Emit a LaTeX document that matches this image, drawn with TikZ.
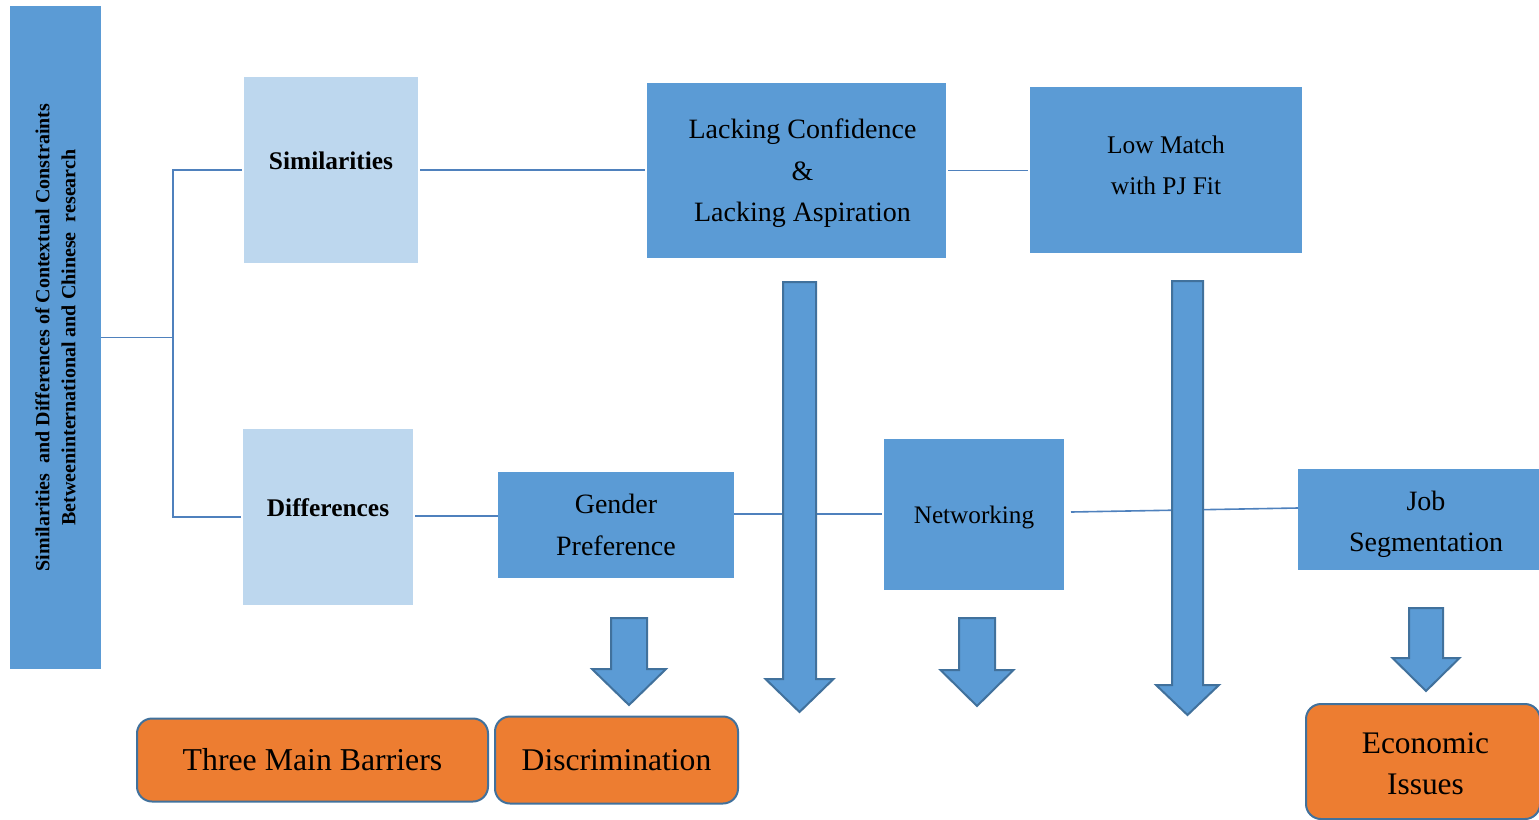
\documentclass[tikz,border=0pt]{standalone}
\usepackage{fontspec}
\setmainfont{Liberation Serif}
\usetikzlibrary{calc}
\definecolor{midblue}{HTML}{5B9BD5}
\definecolor{lightblue}{HTML}{BDD7EE}
\definecolor{orangebox}{HTML}{ED7D31}
\definecolor{darkborder}{HTML}{41719C}
\definecolor{linkblue}{HTML}{4F81BD}
\newcommand{\blockarrow}[6]{% center x, shaft half, top, neck, head half, tip
  \fill[midblue, draw=darkborder, line width=1pt, line join=miter]
    (#1-#2,#3) -- (#1+#2,#3) -- (#1+#2,#4) -- (#1+#5,#4) -- (#1,#6)
    -- (#1-#5,#4) -- (#1-#2,#4) -- cycle;}
\begin{document}
\begin{tikzpicture}[x=0.5pt,y=-0.5pt,
  base/.style={inner sep=0pt, outer sep=0pt, align=center},
  bluebox/.style={base, fill=midblue},
  lightbox/.style={base, fill=lightblue},
  orangeb/.style={base, fill=orangebox, draw=darkborder, line width=1pt, rounded corners=7.5pt},
  conn/.style={draw=linkblue, line width=0.8pt},
  boldlabel/.style={font=\fontsize{12.7}{15}\selectfont\bfseries},
  boxtext/.style={base}
]
\useasboundingbox (0,0) rectangle (1539,820);
\clip (0,0) rectangle (1539,820);

% left bar
\node[bluebox, minimum width=45.5pt, minimum height=331.5pt] (bar) at (55.5,337.5) {};
\node[rotate=90, align=center, font=\fontsize{10}{13}\selectfont\bfseries] (bartxt) at (55.5,337.5)
  {Similarities\ \ and Differences of Contextual Constraints\\Betweeninternational and Chinese\ \ research};

% light boxes
\node[lightbox, minimum width=87pt, minimum height=93pt] (sim) at (331,170) {};
\node[boldlabel] (simtxt) at (331,161) {Similarities};
\node[lightbox, minimum width=85pt, minimum height=88pt] (diff) at (328,517) {};
\node[boldlabel] (difftxt) at (328,508) {Differences};

% blue boxes
\node[bluebox, minimum width=149.5pt, minimum height=87.5pt] (lack) at (796.5,170.5) {};
\node[boxtext, font=\fontsize{14}{20.75}\selectfont] (lacktxt) at (802.5,173.5)
  {Lacking Confidence\\\&\\Lacking Aspiration};
\node[bluebox, minimum width=136pt, minimum height=83pt] (low) at (1166,170) {};
\node[boxtext, font=\fontsize{12.7}{20.5}\selectfont] (lowtxt) at (1166,165)
  {Low Match\\with PJ Fit};
\node[bluebox, minimum width=118pt, minimum height=53pt] (gender) at (616,525) {};
\node[boxtext, font=\fontsize{14}{21}\selectfont] (gendertxt) at (616,525)
  {Gender\\Preference};
\node[bluebox, minimum width=90pt, minimum height=75.5pt] (net) at (974,514.5) {};
\node[boxtext, font=\fontsize{12.6}{15}\selectfont] (nettxt) at (974,517.5) {Networking};
\node[bluebox, minimum width=128pt, minimum height=50.5pt] (job) at (1426,519.5) {};
\node[boxtext, font=\fontsize{14}{20.5}\selectfont] (jobtxt) at (1426,524.5)
  {Job\\Segmentation};

% orange boxes
\node[orangeb, minimum width=175.5pt, minimum height=41.5pt,
  font=\fontsize{15.9}{19}\selectfont] (three) at (312.5,760) {Three Main Barriers};
\node[orangeb, minimum width=121.5pt, minimum height=43.5pt,
  font=\fontsize{15.8}{19}\selectfont] (disc) at (616.5,760) {Discrimination};
\node[orangeb, minimum width=117pt, minimum height=57.5pt] (econ) at (1423,761.5) {};
\node[boxtext, font=\fontsize{15.7}{20.5}\selectfont] (econtxt) at (1425.5,763.5) {Economic\\Issues};

% connectors
\draw[conn] (bar.east) -- ++(72,0) coordinate (junc);
\draw[conn] ([xshift=-1pt]sim.west) -| (junc) |- ([xshift=-1pt]diff.west);
\draw[conn] ([xshift=1pt]sim.east) -- ([xshift=-1pt]sim.east -| lack.west);
\draw[conn] ([xshift=1pt]lack.east) -- ([xshift=-1pt]lack.east -| low.west);
\draw[conn] ([xshift=1pt]diff.east |- 0,516) -- (gender.west |- 0,516);
\draw[conn] (gender.east |- 0,514) -- ([xshift=-1pt]net.west |- 0,514);
\draw[conn] ($(net.east)+(7,-2.5)$) -- ($(job.west)+(0,-11.5)$);

% block arrows
\blockarrow{629}{18}{618}{669}{37}{705}
\blockarrow{799.5}{16.5}{282}{679}{34}{712}
\blockarrow{977}{18}{618}{670}{36.5}{706}
\blockarrow{1187.5}{15.5}{281}{685}{31.5}{715}
\blockarrow{1426}{17}{608}{658}{33.5}{691}
\end{tikzpicture}
\end{document}
